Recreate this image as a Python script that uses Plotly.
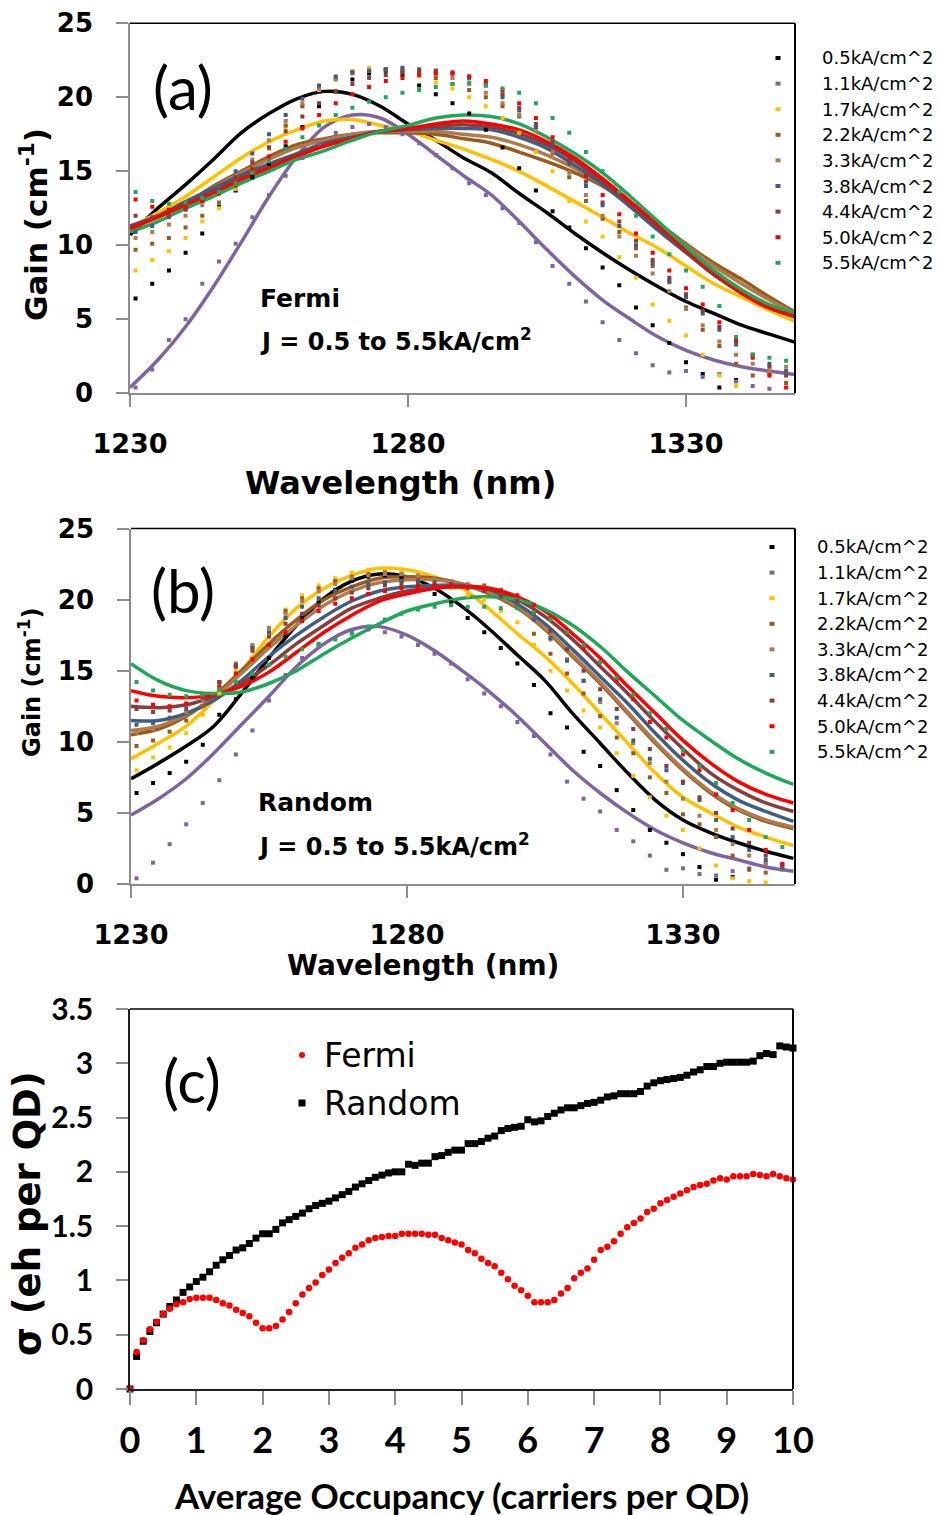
import plotly.graph_objects as go

# ---------------- data ----------------
series_labels = ["0.5kA/cm^2", "1.1kA/cm^2", "1.7kA/cm^2", "2.2kA/cm^2", "3.3kA/cm^2",
                 "3.8kA/cm^2", "4.4kA/cm^2", "5.0kA/cm^2", "5.5kA/cm^2"]
series_colors = ["#000000", "#7F64A2", "#FFC000", "#9A5A1C", "#B07A4C",
                 "#3F5E86", "#8C3B3B", "#FF0000", "#1FA85A"]

wl_fit = [1230, 1235, 1240, 1245, 1250, 1255, 1260, 1265, 1270, 1275, 1280, 1285, 1290,
          1295, 1300, 1305, 1310, 1315, 1320, 1325, 1330, 1335, 1340, 1345, 1350]
wl_dot = [1231, 1234, 1237, 1240, 1243, 1246, 1249, 1252, 1255, 1258,
          1261, 1264, 1267, 1270, 1273, 1276, 1279, 1282, 1285, 1288,
          1291, 1294, 1297, 1300, 1303, 1306, 1309, 1312, 1315, 1318,
          1321, 1324, 1327, 1330, 1333, 1336, 1339, 1342, 1345, 1348]

# (a) Fermi - measured (dots)
fermi_dot_05 = [6.4, 7.4, 8.3, 9.5, 10.8, 12.6, 13.7, 14.6, 15.5, 16.7, 18.0, 19.4, 20.4, 21.2, 21.6, 21.8, 21.5, 20.8, 20.2, 19.6,
                18.9, 17.8, 16.6, 15.2, 13.7, 12.3, 11.2, 9.8, 8.5, 7.3, 5.8, 4.6, 3.4, 2.1, 1.3, 0.4, 0.9, None, None, None]
fermi_dot_11 = [0.4, 1.6, 3.6, 5.0, 7.4, 8.9, 10.1, 11.9, 13.4, 14.7, 15.9, 16.9, 17.6, 18.0, 18.2, 18.0, 17.5, 16.9, 16.1, 15.2,
                14.2, 13.4, 12.5, 11.5, 10.2, 8.6, 7.4, 6.2, 4.8, 3.6, 2.7, 1.9, 1.4, 1.5, 1.1, 1.3, 0.8, 0.5, 0.3, None]
fermi_dot_17 = [8.3, 9.0, 9.6, 10.5, 11.6, 12.5, 13.8, 15.0, 16.5, 18.0, 19.4, 20.5, 21.3, 21.8, 22.0, 21.9, 21.7, 21.4, 21.0, 20.6,
                20.0, 19.4, 18.6, 17.6, 16.3, 15.0, 13.0, 11.6, 10.6, 9.2, 7.8, 6.0, 4.9, 3.9, 2.6, 1.2, 0.5, None, None, None]
fermi_dot_22 = [9.7, 10.1, 10.5, 11.2, 12.0, 12.9, 14.0, 15.2, 16.6, 18.1, 19.4, 20.6, 21.3, 21.7, 21.8, 21.9, 21.8, 21.6, 21.3, 20.9,
                20.5, 20.0, 19.4, 18.7, 18.0, 16.2, 14.6, 13.0, 11.8, 10.9, 9.8, 8.6, 7.5, 5.8, 4.3, 3.2, 2.0, 1.2, 1.3, 0.7]
fermi_dot_33 = [10.5, 10.9, 11.4, 12.0, 12.7, 13.6, 14.6, 15.8, 17.1, 18.4, 19.6, 20.6, 21.2, 21.6, 21.8, 21.9, 21.9, 21.8, 21.6, 21.3,
                20.9, 20.3, 19.6, 18.8, 17.7, 16.3, 14.9, 13.4, 12.0, 10.6, 9.3, 8.1, 6.9, 5.7, 4.6, 3.5, 2.6, 2.0, 1.5, 1.8]
fermi_dot_38 = [10.9, 11.3, 11.9, 12.5, 13.2, 14.0, 15.0, 16.2, 17.5, 18.8, 19.9, 20.8, 21.4, 21.7, 21.8, 21.9, 22.0, 21.9, 21.8, 21.6,
                21.3, 20.8, 20.0, 19.1, 18.0, 16.8, 15.5, 14.0, 12.7, 11.3, 10.0, 8.8, 7.6, 6.5, 5.4, 4.3, 3.3, 2.6, 2.0, 1.5]
fermi_dot_44 = [12.0, 11.9, 12.0, 12.4, 13.0, 13.7, 14.6, 15.6, 16.6, 17.7, 18.7, 19.6, 20.4, 20.9, 21.3, 21.5, 21.7, 21.8, 21.8, 21.7,
                21.4, 20.9, 20.2, 19.3, 18.2, 17.0, 15.7, 14.3, 12.9, 11.6, 10.3, 9.0, 7.8, 6.7, 5.6, 4.5, 3.5, 2.6, 1.8, 1.2]
fermi_dot_50 = [13.1, 12.6, 12.4, 12.6, 13.0, 13.5, 14.3, 15.1, 16.0, 17.0, 17.9, 18.8, 19.6, 20.2, 20.7, 21.1, 21.3, 21.5, 21.6, 21.6,
                21.4, 21.1, 20.5, 19.6, 18.6, 17.3, 16.0, 14.7, 13.4, 12.1, 10.8, 9.5, 8.3, 7.1, 6.0, 4.8, 3.6, 2.4, 1.2, 0.4]
fermi_dot_55 = [13.6, 13.0, 12.8, 12.9, 13.2, 13.6, 14.2, 14.9, 15.7, 16.5, 17.3, 18.1, 18.8, 19.3, 19.7, 20.0, 20.3, 20.5, 20.7, 20.9,
                21.0, 20.8, 20.6, 20.3, 19.6, 18.6, 17.6, 16.3, 15.0, 13.6, 12.0, 10.6, 9.4, 8.3, 7.2, 5.9, 3.8, 2.6, 2.4, 2.2]

# (a) Fermi - model (lines)
fermi_fit_05 = [10.7, 12.5, 14.1, 15.8, 17.6, 18.9, 19.9, 20.4, 20.2, 19.4, 18.2, 17.1, 15.9, 14.9, 13.5, 12.2, 10.8, 9.5, 8.3, 7.2, 6.2, 5.4, 4.6, 4.0, 3.4]
fermi_fit_11 = [0.4, 2.25, 4.5, 7.2, 10.2, 13.3, 16.0, 18.0, 18.8, 18.6, 17.5, 16.1, 14.7, 13.4, 11.6, 9.7, 7.9, 6.3, 5.0, 3.8, 2.9, 2.25, 1.8, 1.5, 1.25]
fermi_fit_17 = [11.2, 12.2, 13.3, 14.6, 15.9, 17.0, 17.8, 18.4, 18.5, 18.1, 17.7, 17.1, 16.5, 15.8, 15.0, 14.0, 12.95, 11.9, 10.8, 9.8, 8.6, 7.4, 6.5, 5.6, 4.8]
fermi_fit_22 = [11.3, 11.9, 12.8, 14.0, 15.0, 16.0, 16.8, 17.2, 17.5, 17.6, 17.6, 17.5, 17.2, 16.9, 16.3, 15.65, 14.9, 14.0, 12.7, 11.5, 10.1, 8.8, 7.7, 6.5, 5.4]
fermi_fit_33 = [11.2, 11.9, 12.8, 13.9, 14.9, 15.8, 16.6, 17.1, 17.5, 17.7, 17.7, 17.7, 17.5, 17.3, 16.8, 16.1, 15.2, 14.1, 12.8, 11.4, 10.0, 8.6, 7.4, 6.3, 5.3]
fermi_fit_38 = [11.3, 12.0, 12.95, 13.85, 14.75, 15.5, 16.2, 16.9, 17.3, 17.7, 17.8, 17.9, 17.9, 17.8, 17.3, 16.55, 15.4, 14.1, 12.6, 11.0, 9.5, 8.0, 6.8, 5.8, 5.1]
fermi_fit_44 = [11.2, 11.95, 12.8, 13.65, 14.55, 15.35, 16.1, 16.8, 17.25, 17.7, 17.85, 18.05, 18.15, 18.0, 17.55, 16.8, 15.7, 14.3, 12.8, 11.2, 9.6, 8.05, 6.75, 5.75, 5.15]
fermi_fit_50 = [11.1, 11.9, 12.7, 13.5, 14.4, 15.2, 16.0, 16.7, 17.2, 17.7, 17.9, 18.2, 18.4, 18.2, 17.8, 17.0, 15.9, 14.5, 12.95, 11.4, 9.7, 8.1, 6.8, 5.8, 5.2]
fermi_fit_55 = [10.9, 11.6, 12.5, 13.3, 14.2, 15.0, 15.8, 16.4, 17.1, 17.7, 18.1, 18.6, 18.8, 18.7, 18.2, 17.3, 16.2, 14.9, 13.3, 11.6, 9.9, 8.3, 7.0, 6.0, 5.4]

# (b) Random - measured (dots)
random_dot_05 = [6.4, 7.1, 7.8, 8.6, 9.8, 11.9, 13.0, 14.5, 15.9, 17.4, 18.7, 19.8, 20.7, 21.3, 21.6, 21.7, 21.5, 21.0, 20.4, 19.8,
                 18.7, 17.7, 16.6, 15.5, 14.0, 12.0, 11.0, 9.3, 8.3, 6.6, 5.2, 3.8, 2.9, 2.1, 1.2, 0.3, 0.5, None, None, None]
random_dot_11 = [0.4, 1.5, 2.8, 4.2, 5.7, 7.3, 9.1, 10.8, 12.9, 14.7, 15.9, 16.8, 17.3, 17.7, 17.9, 17.7, 17.4, 16.8, 16.2, 15.5,
                 14.4, 13.4, 12.5, 11.4, 10.4, 9.1, 7.2, 6.0, 5.1, 3.8, 3.0, 2.0, 1.0, 1.1, 0.7, 0.6, 0.9, 1.1, 1.5, None]
random_dot_17 = [8.0, 8.9, 9.6, 10.6, 11.9, 13.4, 15.0, 16.6, 18.0, 19.3, 20.3, 21.0, 21.5, 21.9, 22.1, 22.1, 22.0, 21.7, 21.3, 20.8,
                 20.3, 20.0, 19.2, 18.4, 16.8, 15.0, 13.6, 12.2, 11.0, 9.2, 7.6, 6.1, 4.8, 3.8, 2.5, 1.3, 0.4, 0.2, 0.1, None]
random_dot_22 = [9.7, 10.1, 10.7, 11.5, 12.5, 13.8, 15.3, 16.7, 18.0, 19.2, 20.1, 20.8, 21.3, 21.6, 21.8, 21.9, 21.8, 21.6, 21.4, 21.2,
                 21.0, 21.0, 20.7, 19.5, 17.6, 16.2, 14.8, 13.4, 11.8, 10.3, 9.2, 7.5, 6.4, 4.9, 4.2, 3.3, 2.0, 1.0, 0.8, 1.2]
random_dot_33 = [10.6, 10.9, 11.4, 12.1, 13.0, 14.2, 15.5, 16.8, 18.0, 19.0, 19.9, 20.6, 21.1, 21.5, 21.7, 21.8, 21.8, 21.7, 21.5, 21.3,
                 21.1, 20.8, 20.4, 19.8, 18.6, 17.2, 15.8, 14.3, 12.8, 11.3, 9.9, 8.5, 7.2, 6.0, 4.8, 3.8, 2.8, 2.0, 1.4, 1.0]
random_dot_38 = [11.2, 11.3, 11.7, 12.3, 13.1, 14.2, 15.4, 16.6, 17.7, 18.7, 19.5, 20.1, 20.6, 20.9, 21.1, 21.2, 21.3, 21.3, 21.2, 21.1,
                 20.9, 20.6, 20.2, 19.7, 18.6, 17.3, 15.7, 14.3, 13.0, 11.7, 10.1, 8.8, 8.0, 7.1, 5.9, 4.5, 3.3, 2.4, 1.7, 1.1]
random_dot_44 = [12.3, 12.1, 12.2, 12.6, 13.3, 14.2, 15.3, 16.4, 17.4, 18.3, 19.0, 19.6, 20.1, 20.5, 20.8, 21.0, 21.1, 21.1, 21.0, 20.9,
                 20.8, 20.6, 20.3, 19.9, 19.0, 17.8, 16.5, 15.0, 13.7, 12.3, 10.9, 9.5, 8.3, 7.2, 6.1, 5.0, 3.9, 2.9, 2.0, 1.4]
random_dot_50 = [12.9, 12.6, 12.5, 12.7, 13.2, 13.9, 14.8, 15.8, 16.8, 17.7, 18.5, 19.2, 19.7, 20.1, 20.4, 20.6, 20.8, 20.9, 21.0, 21.0,
                 20.9, 20.8, 20.6, 20.3, 19.6, 18.7, 17.6, 16.6, 15.6, 14.3, 13.0, 11.4, 10.3, 9.1, 8.0, 6.3, 5.2, 3.8, 2.4, 1.4]
random_dot_55 = [14.2, 13.6, 13.3, 13.2, 13.3, 13.7, 14.2, 14.8, 15.4, 16.0, 16.5, 16.9, 17.2, 17.6, 18.1, 18.6, 19.0, 19.3, 19.5, 19.6,
                 19.5, 19.5, 19.4, 19.4, 19.1, 18.6, 17.7, 16.8, 15.6, 14.5, 13.3, 12.0, 10.9, 9.4, 8.3, 7.1, 5.7, 4.5, 3.3, 2.6]

# (b) Random - model (lines)
random_fit_05 = [7.4, 8.5, 9.7, 11.1, 13.4, 15.9, 18.2, 20.1, 21.3, 21.8, 21.6, 20.8, 19.5, 17.9, 16.1, 14.3, 12.0, 9.9, 7.8, 5.9, 4.5, 3.6, 2.9, 2.3, 1.8]
random_fit_11 = [4.85, 6.0, 7.4, 9.2, 11.2, 13.2, 15.3, 16.9, 17.9, 18.1, 17.5, 16.4, 15.0, 13.5, 11.8, 9.9, 8.0, 6.4, 5.0, 3.8, 2.9, 2.2, 1.7, 1.2, 0.9]
random_fit_17 = [8.8, 9.9, 11.1, 12.9, 15.0, 17.4, 19.4, 20.8, 21.7, 22.2, 22.1, 21.6, 20.8, 19.3, 17.6, 16.0, 14.1, 12.0, 9.9, 7.8, 6.1, 5.0, 4.0, 3.3, 2.7]
random_fit_22 = [10.5, 10.9, 11.8, 13.2, 15.0, 16.9, 18.6, 20.0, 20.9, 21.5, 21.6, 21.5, 21.1, 20.4, 19.4, 17.9, 16.0, 14.1, 12.0, 9.9, 8.0, 6.4, 5.2, 4.4, 3.9]
random_fit_33 = [10.8, 11.1, 11.9, 13.1, 14.8, 16.6, 18.2, 19.6, 20.6, 21.2, 21.4, 21.4, 21.1, 20.5, 19.5, 18.0, 16.1, 14.2, 12.1, 10.0, 8.1, 6.5, 5.3, 4.5, 4.0]
random_fit_38 = [11.5, 11.5, 12.0, 12.9, 14.3, 16.0, 17.5, 18.8, 19.9, 20.6, 20.9, 21.0, 21.0, 20.7, 19.7, 18.3, 16.5, 14.6, 12.7, 10.6, 8.7, 7.1, 5.9, 5.1, 4.4]
random_fit_44 = [12.5, 12.4, 12.6, 13.2, 14.1, 15.4, 16.9, 18.2, 19.4, 20.1, 20.6, 20.8, 20.9, 20.7, 20.0, 18.8, 17.2, 15.3, 13.4, 11.4, 9.5, 7.8, 6.6, 5.7, 5.1]
random_fit_50 = [13.6, 13.2, 13.1, 13.3, 13.9, 14.9, 16.3, 17.7, 18.9, 19.9, 20.4, 20.8, 20.9, 20.8, 20.2, 19.2, 17.6, 15.9, 13.9, 12.0, 10.1, 8.5, 7.2, 6.3, 5.7]
random_fit_55 = [15.5, 14.3, 13.6, 13.4, 13.5, 14.1, 15.0, 16.2, 17.3, 18.3, 19.2, 19.7, 20.1, 20.2, 20.0, 19.3, 18.2, 16.7, 14.9, 13.2, 11.5, 10.1, 8.8, 7.8, 7.0]

# (c) sigma vs average occupancy
occupancy = [0.0, 0.1, 0.2, 0.3, 0.4, 0.5, 0.6, 0.7, 0.8, 0.9,
             1.0, 1.1, 1.2, 1.3, 1.4, 1.5, 1.6, 1.7, 1.8, 1.9,
             2.0, 2.1, 2.2, 2.3, 2.4, 2.5, 2.6, 2.7, 2.8, 2.9,
             3.0, 3.1, 3.2, 3.3, 3.4, 3.5, 3.6, 3.7, 3.8, 3.9,
             4.0, 4.1, 4.2, 4.3, 4.4, 4.5, 4.6, 4.7, 4.8, 4.9,
             5.0, 5.1, 5.2, 5.3, 5.4, 5.5, 5.6, 5.7, 5.8, 5.9,
             6.0, 6.1, 6.2, 6.3, 6.4, 6.5, 6.6, 6.7, 6.8, 6.9,
             7.0, 7.1, 7.2, 7.3, 7.4, 7.5, 7.6, 7.7, 7.8, 7.9,
             8.0, 8.1, 8.2, 8.3, 8.4, 8.5, 8.6, 8.7, 8.8, 8.9,
             9.0, 9.1, 9.2, 9.3, 9.4, 9.5, 9.6, 9.7, 9.8, 9.9, 10.0]
sigma_fermi = [0.00, 0.34, 0.45, 0.55, 0.62, 0.69, 0.74, 0.78, 0.80, 0.83,
               0.84, 0.84, 0.84, 0.82, 0.79, 0.77, 0.73, 0.70, 0.67, 0.61,
               0.56, 0.56, 0.58, 0.64, 0.71, 0.79, 0.87, 0.93, 0.98, 1.05,
               1.10, 1.16, 1.21, 1.25, 1.30, 1.33, 1.37, 1.39, 1.40, 1.41,
               1.41, 1.43, 1.43, 1.43, 1.43, 1.42, 1.42, 1.39, 1.37, 1.35,
               1.33, 1.28, 1.25, 1.20, 1.16, 1.13, 1.07, 1.01, 0.95, 0.91,
               0.86, 0.80, 0.80, 0.80, 0.82, 0.88, 0.93, 1.02, 1.07, 1.11,
               1.19, 1.28, 1.31, 1.36, 1.43, 1.49, 1.53, 1.57, 1.63, 1.66,
               1.71, 1.74, 1.77, 1.80, 1.83, 1.86, 1.88, 1.89, 1.92, 1.94,
               1.93, 1.96, 1.96, 1.96, 1.98, 1.97, 1.96, 1.98, 1.96, 1.94, 1.93]
sigma_random = [0.00, 0.30, 0.44, 0.53, 0.61, 0.69, 0.76, 0.82, 0.89, 0.94,
                0.99, 1.03, 1.08, 1.14, 1.19, 1.23, 1.28, 1.30, 1.34, 1.39,
                1.43, 1.43, 1.47, 1.53, 1.56, 1.59, 1.62, 1.66, 1.69, 1.71,
                1.73, 1.76, 1.79, 1.82, 1.86, 1.89, 1.92, 1.95, 1.97, 1.99,
                2.00, 2.00, 2.07, 2.06, 2.08, 2.08, 2.14, 2.15, 2.18, 2.20,
                2.20, 2.26, 2.26, 2.28, 2.31, 2.33, 2.38, 2.40, 2.41, 2.42,
                2.48, 2.46, 2.47, 2.51, 2.54, 2.57, 2.59, 2.59, 2.61, 2.63,
                2.64, 2.66, 2.69, 2.70, 2.72, 2.72, 2.72, 2.74, 2.79, 2.82,
                2.84, 2.85, 2.86, 2.87, 2.89, 2.92, 2.94, 2.97, 2.97, 3.00,
                3.01, 3.01, 3.01, 3.01, 3.02, 3.07, 3.09, 3.08, 3.16, 3.15, 3.14]

fermi_dots = [fermi_dot_05, fermi_dot_11, fermi_dot_17, fermi_dot_22, fermi_dot_33,
              fermi_dot_38, fermi_dot_44, fermi_dot_50, fermi_dot_55]
fermi_fits = [fermi_fit_05, fermi_fit_11, fermi_fit_17, fermi_fit_22, fermi_fit_33,
              fermi_fit_38, fermi_fit_44, fermi_fit_50, fermi_fit_55]
random_dots = [random_dot_05, random_dot_11, random_dot_17, random_dot_22, random_dot_33,
               random_dot_38, random_dot_44, random_dot_50, random_dot_55]
random_fits = [random_fit_05, random_fit_11, random_fit_17, random_fit_22, random_fit_33,
               random_fit_38, random_fit_44, random_fit_50, random_fit_55]

# ---------------- layout helpers ----------------
W, H = 941, 1515
def px(x):
    return x / W
def py(y):
    return 1 - y / H

BOLD = "DejaVu Sans"
fig = go.Figure()

for panel, (dots, fits) in enumerate([(fermi_dots, fermi_fits), (random_dots, random_fits)]):
    xa = "x" if panel == 0 else "x2"
    ya = "y" if panel == 0 else "y2"
    for i in range(9):
        fig.add_trace(go.Scatter(x=wl_fit, y=fits[i], mode="lines", xaxis=xa, yaxis=ya,
                                 line=dict(color=series_colors[i], width=3.5, shape="spline", smoothing=1.0),
                                 name=series_labels[i] + " fit", showlegend=False, hoverinfo="skip"))
    for i in range(9):
        fig.add_trace(go.Scatter(x=wl_dot, y=dots[i], mode="markers", xaxis=xa, yaxis=ya,
                                 marker=dict(color=series_colors[i], size=4, symbol="square", line=dict(width=0)),
                                 name=series_labels[i], showlegend=False, cliponaxis=True))

fig.add_trace(go.Scatter(x=occupancy, y=sigma_random, mode="markers", xaxis="x3", yaxis="y3",
                         marker=dict(color="black", size=7, symbol="square", line=dict(width=0)),
                         name="Random", showlegend=False, cliponaxis=False))
fig.add_trace(go.Scatter(x=occupancy, y=sigma_fermi, mode="markers", xaxis="x3", yaxis="y3",
                         marker=dict(color="#FF0000", size=6.5, symbol="circle", line=dict(width=0)),
                         name="Fermi", showlegend=False, cliponaxis=False))

gray = "#8C8C8C"
def axis_cfg(domain, rng, tickvals, standoff, size, family=BOLD, ticklen=12, linecolor=gray, anchor="x"):
    return dict(domain=domain, range=rng, tickvals=tickvals, showline=True, linecolor=linecolor, linewidth=1.5,
                ticks="outside", ticklen=ticklen, tickcolor=gray, tickwidth=1.5, showgrid=False, zeroline=False,
                ticklabelstandoff=standoff, automargin=False, anchor=anchor,
                tickfont=dict(family=family, size=size, color="black", weight="bold"))

xa1 = axis_cfg([px(130), px(795)], [1230, 1349.6], [1230, 1280, 1330], 14, 27, anchor="y")
ya1 = axis_cfg([py(393.3), py(23.3)], [0, 25], [0, 5, 10, 15, 20, 25], 18, 26, anchor="x")
xa2 = axis_cfg([px(131), px(795)], [1230, 1350.3], [1230, 1280, 1330], 14, 27, anchor="y2")
ya2 = axis_cfg([py(884), py(528.5)], [0, 25], [0, 5, 10, 15, 20, 25], 18, 26, anchor="x2")
xa3 = axis_cfg([px(130), px(793)], [0, 10], [0, 1, 2, 3, 4, 5, 6, 7, 8, 9, 10], 5, 36,
               family="Lato", ticklen=14, linecolor="#202020", anchor="y3")
ya3 = axis_cfg([py(1389), py(1009)], [0, 3.5], [0, 0.5, 1, 1.5, 2, 2.5, 3, 3.5], 17, 30,
               family="Lato", linecolor="#202020", anchor="x3")

shapes = []
for xr, yr in [("x domain", "y domain"), ("x2 domain", "y2 domain"), ("x3 domain", "y3 domain")]:
    shapes.append(dict(type="line", xref=xr, yref=yr, x0=0, x1=1, y0=1, y1=1, line=dict(color="black", width=1.5)))
    shapes.append(dict(type="line", xref=xr, yref=yr, x0=1, x1=1, y0=0, y1=1, line=dict(color="black", width=2)))

annotations = []
for (mx, tx, y0) in [(778, 820, 58), (772, 815, 547)]:
    for i in range(9):
        yy = y0 + i * 25.6
        shapes.append(dict(type="rect", xref="paper", yref="paper", x0=px(mx - 2.5), x1=px(mx + 2.5),
                           y0=py(yy + 2), y1=py(yy - 2), fillcolor=series_colors[i], line=dict(width=0)))
        annotations.append(dict(x=px(tx), y=py(yy), xref="paper", yref="paper", xanchor="left", yanchor="middle",
                                text=series_labels[i], showarrow=False,
                                font=dict(family="DejaVu Sans", size=18, color="black")))

shapes.append(dict(type="circle", xref="paper", yref="paper", x0=px(299), x1=px(305), y0=py(1058), y1=py(1052),
                   fillcolor="#FF0000", line=dict(width=0)))
shapes.append(dict(type="rect", xref="paper", yref="paper", x0=px(298.5), x1=px(305.5), y0=py(1106.5), y1=py(1099.5),
                   fillcolor="black", line=dict(width=0)))
annotations.append(dict(x=px(322), y=py(1055), xref="paper", yref="paper", xanchor="left", yanchor="middle",
                        text="Fermi", showarrow=False,
                        font=dict(family="DejaVu Sans", size=33, color="black")))
annotations.append(dict(x=px(322), y=py(1103), xref="paper", yref="paper", xanchor="left", yanchor="middle",
                        text="Random", showarrow=False,
                        font=dict(family="DejaVu Sans", size=33, color="black")))

def note(x, y, text, size, family=BOLD, weight="bold", xanchor="center", angle=0):
    annotations.append(dict(x=px(x), y=py(y), xref="paper", yref="paper", xanchor=xanchor, yanchor="middle",
                            text=text, showarrow=False, textangle=angle,
                            font=dict(family=family, size=size, color="black", weight=weight)))

note(183, 87, "(a)", 60, family="Lato", weight="normal")
note(183, 590, "(b)", 60, family="Lato", weight="normal")
note(192, 1080, "(c)", 60, family="Lato", weight="normal")

note(258, 298, "Fermi", 25, xanchor="left")
note(258, 340, "J = 0.5 to 5.5kA/cm<sup>2</sup>", 24, xanchor="left")
note(256, 802, "Random", 25, xanchor="left")
note(256, 845, "J = 0.5 to 5.5kA/cm<sup>2</sup>", 24, xanchor="left")

note(400, 483, "Wavelength (nm)", 32)
note(34, 225, "Gain (cm<sup>-1</sup>)", 31, angle=-90)
note(423, 965, "Wavelength (nm)", 28)
note(30, 683, "Gain (cm<sup>-1</sup>)", 24, angle=-90)
note(461, 1495, "Average Occupancy (carriers per QD)", 35, family="Lato")
note(27, 1214, "σ (eh per QD)", 37, angle=-90)

fig.update_layout(width=W, height=H, autosize=False, margin=dict(l=0, r=0, t=0, b=0, autoexpand=False),
                  paper_bgcolor="white", plot_bgcolor="white", showlegend=False,
                  xaxis=xa1, yaxis=ya1, xaxis2=xa2, yaxis2=ya2, xaxis3=xa3, yaxis3=ya3,
                  shapes=shapes, annotations=annotations)

fig.write_html("out.html", config={"displayModeBar": False},
               post_script="document.body.style.margin='0px';document.body.style.padding='0px';")
